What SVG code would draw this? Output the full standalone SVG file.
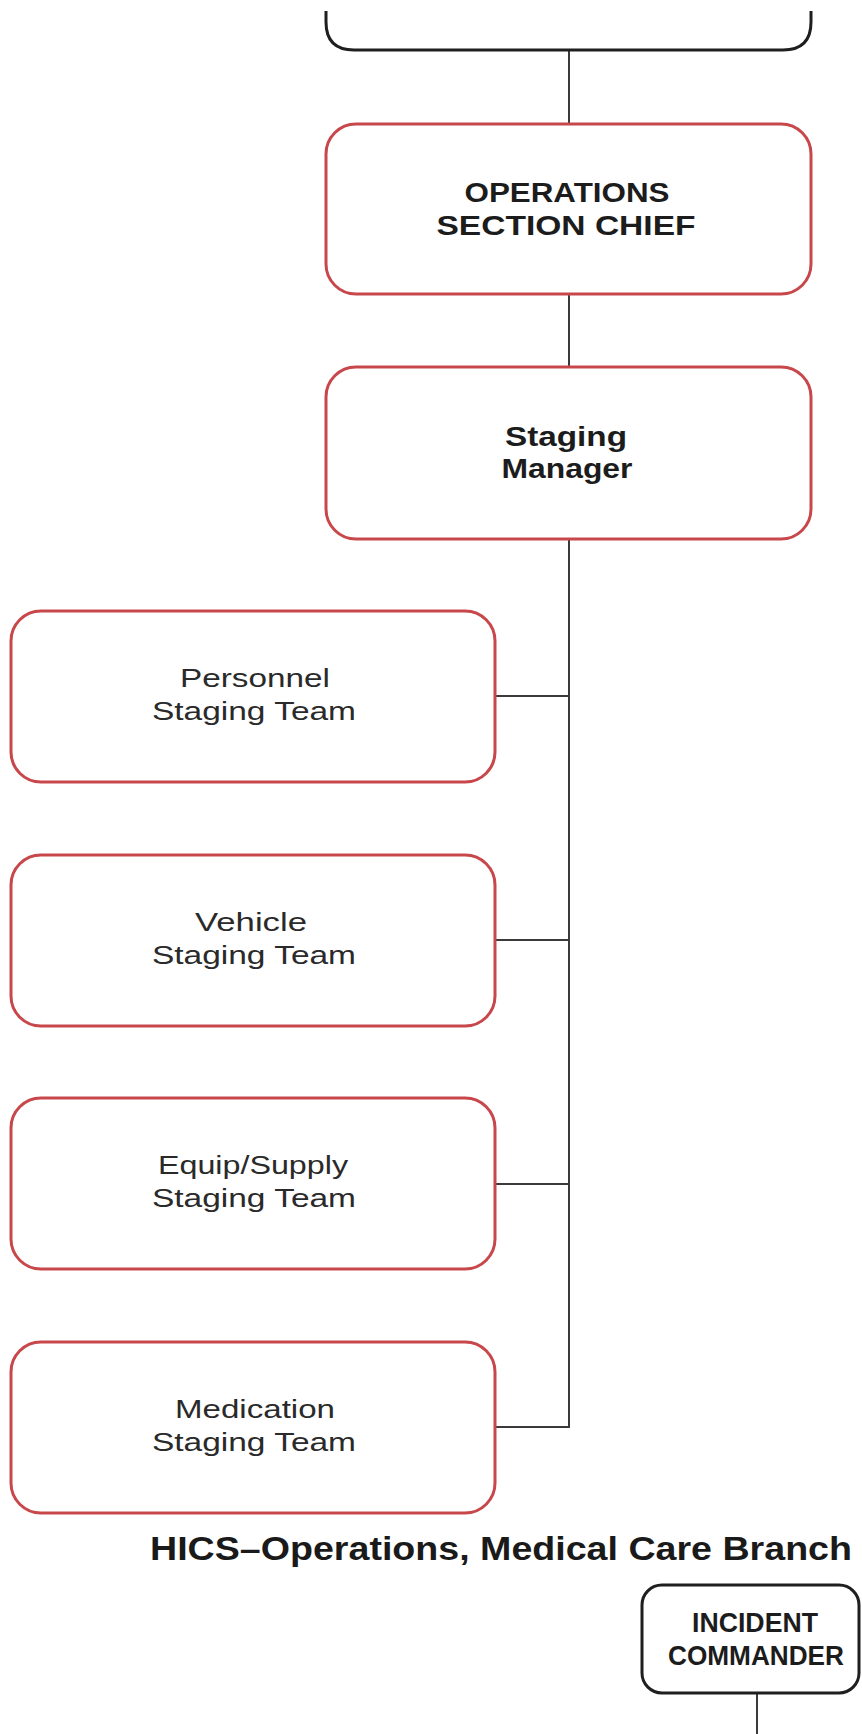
<svg xmlns="http://www.w3.org/2000/svg" width="862" height="1734" viewBox="0 0 862 1734">
  <style>
    .red { fill: #ffffff; stroke: #c8474b; stroke-width: 3; }
    .blk { fill: #ffffff; stroke: #1f1f1f; stroke-width: 3; }
    .wire { fill: none; stroke: #3a3a3a; stroke-width: 2; }
    .hd { font-family: "Liberation Sans", Arial, sans-serif; font-weight: bold; font-size: 27px; fill: #1c1c1c; text-anchor: middle; }
    .tm { font-family: "Liberation Sans", Arial, sans-serif; font-size: 25px; fill: #2a2a2a; text-anchor: middle; }
    .ttl { font-family: "Liberation Sans", Arial, sans-serif; font-weight: bold; font-size: 34px; fill: #1a1a1a; }
  </style>
  <rect width="862" height="1734" fill="#ffffff"/>

  <!-- connectors -->
  <g id="connectors" class="wire">
    <line x1="569" y1="50" x2="569" y2="124"/>
    <line x1="569" y1="294" x2="569" y2="367"/>
    <polyline points="569,539 569,1427 495,1427"/>
    <line x1="495" y1="696" x2="569" y2="696"/>
    <line x1="495" y1="940" x2="569" y2="940"/>
    <line x1="495" y1="1184" x2="569" y2="1184"/>
    <line x1="757" y1="1693" x2="757" y2="1734"/>
  </g>

  <!-- parent box, top edge outside the frame -->
  <g id="parent">
    <path class="blk" d="M326,11 V22 Q326,50 354,50 H783 Q811,50 811,22 V11"/>
  </g>

  <g id="ops-chief">
    <rect class="red" x="326" y="124" width="485" height="170" rx="30"/>
    <text class="hd" x="567" y="202" textLength="205" lengthAdjust="spacingAndGlyphs">OPERATIONS</text>
    <text class="hd" x="566" y="235" textLength="259" lengthAdjust="spacingAndGlyphs">SECTION CHIEF</text>
  </g>

  <g id="staging-manager">
    <rect class="red" x="326" y="367" width="485" height="172" rx="30"/>
    <text class="hd" x="566" y="446" textLength="122" lengthAdjust="spacingAndGlyphs">Staging</text>
    <text class="hd" x="567" y="478" textLength="131" lengthAdjust="spacingAndGlyphs">Manager</text>
  </g>

  <g id="personnel-team">
    <rect class="red" x="11" y="611" width="484" height="171" rx="30"/>
    <text class="tm" x="255" y="687" textLength="150" lengthAdjust="spacingAndGlyphs">Personnel</text>
    <text class="tm" x="254" y="720" textLength="204" lengthAdjust="spacingAndGlyphs">Staging Team</text>
  </g>

  <g id="vehicle-team">
    <rect class="red" x="11" y="855" width="484" height="171" rx="30"/>
    <text class="tm" x="251" y="931" textLength="112" lengthAdjust="spacingAndGlyphs">Vehicle</text>
    <text class="tm" x="254" y="964" textLength="204" lengthAdjust="spacingAndGlyphs">Staging Team</text>
  </g>

  <g id="equip-team">
    <rect class="red" x="11" y="1098" width="484" height="171" rx="30"/>
    <text class="tm" x="253" y="1174" textLength="190" lengthAdjust="spacingAndGlyphs">Equip/Supply</text>
    <text class="tm" x="254" y="1207" textLength="204" lengthAdjust="spacingAndGlyphs">Staging Team</text>
  </g>

  <g id="medication-team">
    <rect class="red" x="11" y="1342" width="484" height="171" rx="30"/>
    <text class="tm" x="255" y="1418" textLength="160" lengthAdjust="spacingAndGlyphs">Medication</text>
    <text class="tm" x="254" y="1451" textLength="204" lengthAdjust="spacingAndGlyphs">Staging Team</text>
  </g>

  <g id="title">
    <text class="ttl" x="150" y="1560" textLength="702" lengthAdjust="spacingAndGlyphs">HICS–Operations, Medical Care Branch</text>
  </g>

  <g id="incident-commander">
    <rect class="blk" x="642" y="1585" width="217" height="108" rx="20"/>
    <text class="hd" x="755" y="1632" font-size="24" textLength="126" lengthAdjust="spacingAndGlyphs">INCIDENT</text>
    <text class="hd" x="756" y="1665" font-size="24" textLength="176" lengthAdjust="spacingAndGlyphs">COMMANDER</text>
  </g>
</svg>
